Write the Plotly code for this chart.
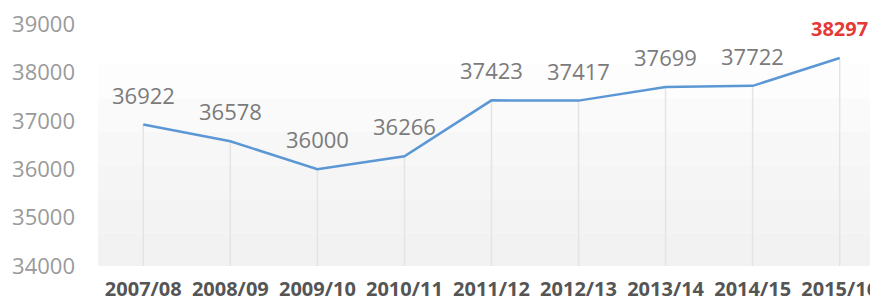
import plotly.graph_objects as go

years = ["2007/08", "2008/09", "2009/10", "2010/11", "2011/12",
         "2012/13", "2013/14", "2014/15", "2015/16"]
values = [36922, 36578, 36000, 36266, 37423, 37417, 37699, 37722, 38297]
y_ticks = [34000, 35000, 36000, 37000, 38000, 39000]

FONT = "Open Sans"
fig = go.Figure()

# drop lines from each point to the axis floor
dx, dy = [], []
for c, v in zip(years, values):
    dx += [c, c, None]
    dy += [y_ticks[0], v, None]
fig.add_trace(go.Scatter(x=dx, y=dy, mode="lines",
                         line=dict(color="#e4e4e4", width=1.5),
                         hoverinfo="skip", showlegend=False))

fig.add_trace(go.Scatter(x=years, y=values, mode="lines",
                         line=dict(color="#5b97d4", width=2.5),
                         showlegend=False))

for i, (c, v) in enumerate(zip(years, values)):
    last = i == len(values) - 1
    fig.add_annotation(x=c, y=v, text=f"<b>{v}</b>" if last else str(v),
                       showarrow=False, yshift=30,
                       font=dict(family=FONT, size=20 if last else 22,
                                 color="#e53935" if last else "#7b7b7b"))

# soft gradient background band
bands = ["#fdfdfd", "#fafafa", "#f7f7f7", "#f5f5f5", "#f3f3f3", "#f2f2f2"]
top, bottom = 38150, 34000
step = (top - bottom) / len(bands)
for k, col in enumerate(bands):
    fig.add_shape(type="rect", xref="paper", yref="y", x0=0, x1=1,
                  y0=top - (k + 1) * step, y1=top - k * step,
                  fillcolor=col, line=dict(width=0), layer="below")

# the page body has an 8px margin, so the figure is sized to the visible area
fig.update_layout(
    width=870, height=294,
    margin=dict(l=90, r=0, t=16, b=36),
    paper_bgcolor="white", plot_bgcolor="white",
    font=dict(family=FONT),
    xaxis=dict(type="category", range=[-0.52, 8.44], showgrid=False,
               zeroline=False, showline=False, ticks="", automargin=False,
               tickfont=dict(family=FONT, size=20, color="#555555", weight="bold"),
               ticklabelstandoff=9, ticklabeloverflow="allow"),
    yaxis=dict(range=[34000, 39000], tickvals=y_ticks,
               ticktext=[str(t) for t in y_ticks], showgrid=False,
               zeroline=False, showline=False, ticks="", automargin=False,
               tickfont=dict(family=FONT, size=22, color="#9a9a9a"),
               ticklabelstandoff=22, ticklabeloverflow="allow"),
)

fig.write_html("out.html")
